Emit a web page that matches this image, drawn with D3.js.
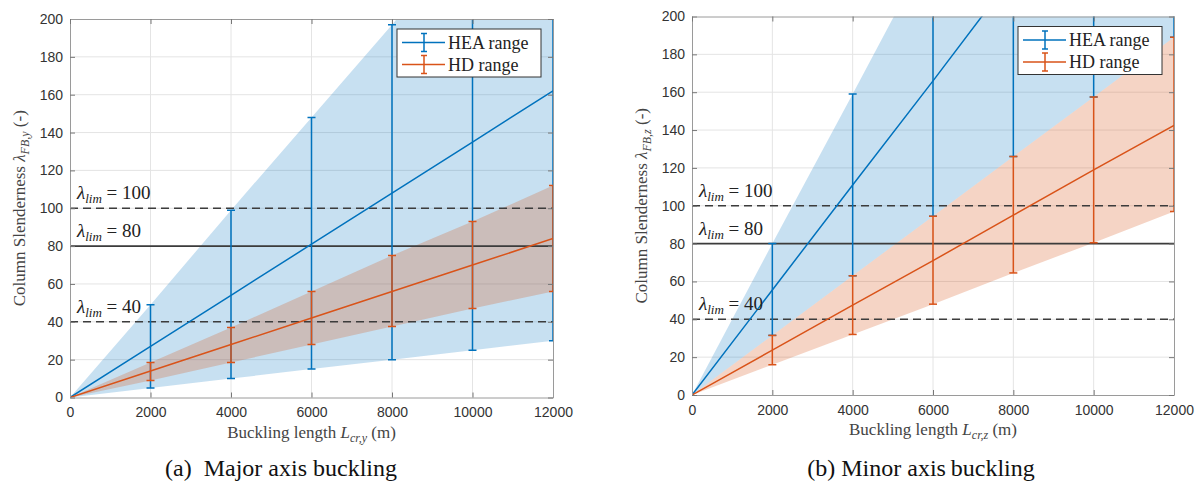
<!DOCTYPE html>
<html>
  <head>
    <title>Column slenderness</title>
  <script src="https://d3js.org/d3.v7.min.js"></script>
  <style>
    body { margin: 0; background: #fff; }
    .tick text { font-family: "Liberation Sans", Arial, sans-serif; font-size: 14px; fill: #333; }
  </style>
 </head>
  <body>

<script type="text/javascript">

// buckling lengths (x) and tick values
var lengths = [0, 2000, 4000, 6000, 8000, 10000, 12000];
var xTicks = [0, 2000, 4000, 6000, 8000, 10000, 12000];
var yTicks = [0, 20, 40, 60, 80, 100, 120, 140, 160, 180, 200];

// (a) major axis  -- lambda_FB,y
var heaMeanY = [0, 27, 54, 81, 108, 135, 162];
var heaMinY  = [0, 5, 10, 15, 20, 25, 30];
var heaMaxY  = [0, 49, 99, 148, 197, 247, 296];
var hdMeanY  = [0, 14, 28, 42, 56, 70, 84];
var hdMinY   = [0, 9, 18.5, 28, 37.5, 47, 56];
var hdMaxY   = [0, 18.5, 37, 56, 75, 93, 112];

// (b) minor axis  -- lambda_FB,z
var heaMeanZ = [0, 55.5, 111, 166, 222, 277, 333];
var heaMinZ  = [0, 31.5, 63, 94.5, 126, 157.5, 189];
var heaMaxZ  = [0, 80, 159, 239, 318, 398, 477];
var hdMeanZ  = [0, 23.7, 47.5, 71, 95, 119, 142.5];
var hdMinZ   = [0, 16, 32, 48, 64.5, 80.5, 97];
var hdMaxZ   = [0, 31.5, 63, 94.5, 126, 157.5, 189];

// slenderness limits
var limits = [100, 80, 40];
var limitDashed = [true, false, true];

var blue = "#0072BD";
var orange = "#D95319";
var serif = "'Liberation Serif', 'Times New Roman', serif";

var svg = d3.select("body").append("svg")
    .attr("width", 1201)
    .attr("height", 488);

function rows(mean, lo, hi) {
  return lengths.map(function(L, i) { return {L: L, mean: mean[i], min: lo[i], max: hi[i]}; });
}

function drawPanel(p) {
  var x = d3.scaleLinear().domain([0, 12000]).range([p.left, p.right]);
  var y = d3.scaleLinear().domain([0, 200]).range([p.bottom, p.top]);

  var g = svg.append("g");

  svg.append("clipPath").attr("id", p.id)
    .append("rect")
    .attr("x", p.left).attr("y", p.top)
    .attr("width", p.right - p.left).attr("height", p.bottom - p.top);

  // grid
  g.selectAll(".gx").data(xTicks.slice(1, -1)).enter().append("line")
    .attr("x1", function(d) { return x(d); }).attr("x2", function(d) { return x(d); })
    .attr("y1", p.top).attr("y2", p.bottom)
    .style("stroke", "#e4e4e4").style("stroke-width", 1);
  g.selectAll(".gy").data(yTicks.slice(1, -1)).enter().append("line")
    .attr("y1", function(d) { return y(d); }).attr("y2", function(d) { return y(d); })
    .attr("x1", p.left).attr("x2", p.right)
    .style("stroke", "#e4e4e4").style("stroke-width", 1);

  var plot = g.append("g").attr("clip-path", "url(#" + p.id + ")");

  var area = d3.area()
    .x(function(d) { return x(d.L); })
    .y0(function(d) { return y(d.min); })
    .y1(function(d) { return y(d.max); });
  var line = d3.line()
    .x(function(d) { return x(d.L); })
    .y(function(d) { return y(d.mean); });

  plot.append("path").attr("d", area(p.hea))
    .style("fill", blue).style("fill-opacity", 0.22);
  plot.append("path").attr("d", area(p.hd))
    .style("fill", orange).style("fill-opacity", 0.25);

  // limit lines
  limits.forEach(function(v, i) {
    plot.append("line")
      .attr("x1", p.left).attr("x2", p.right)
      .attr("y1", y(v)).attr("y2", y(v))
      .style("stroke", "#3c3c3c").style("stroke-width", 1.6)
      .style("stroke-dasharray", limitDashed[i] ? "8,5" : null);
  });

  function errbars(data, color) {
    var b = plot.append("g").style("stroke", color).style("stroke-width", 1.5);
    data.slice(1).forEach(function(d) {
      b.append("line").attr("x1", x(d.L)).attr("x2", x(d.L))
        .attr("y1", y(d.min)).attr("y2", y(d.max));
      [d.min, d.max].forEach(function(v) {
        b.append("line").attr("x1", x(d.L) - 4).attr("x2", x(d.L) + 4)
          .attr("y1", y(v)).attr("y2", y(v));
      });
    });
    plot.append("path").attr("d", line(data))
      .style("fill", "none").style("stroke", color).style("stroke-width", 1.5);
  }
  errbars(p.hea, blue);
  errbars(p.hd, orange);

  // limit labels
  limits.forEach(function(v) {
    var t = g.append("text")
      .attr("x", p.left + 7).attr("y", y(v) - 9)
      .style("font-family", serif).style("font-size", "19px").style("fill", "#222");
    t.append("tspan").text("\u03bb").style("font-style", "italic");
    t.append("tspan").text("lim").attr("dy", 4).style("font-size", "13px").style("font-style", "italic");
    t.append("tspan").text(" = " + v).attr("dy", -4);
  });

  // axes
  var axisStyle = function(sel) {
    sel.select(".domain").style("stroke", "#9a9a9a");
    sel.selectAll(".tick line").style("stroke", "#777");
  };
  var fmt = d3.format("d");
  g.append("g").attr("transform", "translate(0," + p.bottom + ")")
    .call(d3.axisBottom(x).tickValues(xTicks).tickFormat(fmt).tickSizeInner(-5).tickSizeOuter(0).tickPadding(10))
    .call(axisStyle);
  g.append("g").attr("transform", "translate(" + p.left + ",0)")
    .call(d3.axisLeft(y).tickValues(yTicks).tickFormat(fmt).tickSizeInner(-5).tickSizeOuter(0).tickPadding(7))
    .call(axisStyle);
  g.append("g").attr("transform", "translate(0," + p.top + ")")
    .call(d3.axisTop(x).tickValues(xTicks).tickSizeInner(-5).tickSizeOuter(0).tickFormat(""))
    .call(axisStyle);
  g.append("g").attr("transform", "translate(" + p.right + ",0)")
    .call(d3.axisRight(y).tickValues(yTicks).tickSizeInner(-5).tickSizeOuter(0).tickFormat(""))
    .call(axisStyle);

  // axis labels
  var xl = g.append("text")
    .attr("x", (p.left + p.right) / 2).attr("y", p.bottom + 40)
    .attr("text-anchor", "middle")
    .style("font-family", serif).style("font-size", "17px").style("fill", "#444");
  xl.append("tspan").text("Buckling length ");
  xl.append("tspan").text("L").style("font-style", "italic");
  xl.append("tspan").text("cr," + p.sub).attr("dy", 4).style("font-size", "12px").style("font-style", "italic");
  xl.append("tspan").text(" (m)").attr("dy", -4);

  var yl = g.append("text")
    .attr("transform", "translate(" + (p.left - 45) + "," + ((p.top + p.bottom) / 2) + ") rotate(-90)")
    .attr("text-anchor", "middle")
    .style("font-family", serif).style("font-size", "17px").style("fill", "#444");
  yl.append("tspan").text("Column Slenderness ");
  yl.append("tspan").text("\u03bb").style("font-style", "italic");
  yl.append("tspan").text("FB," + p.sub).attr("dy", 4).style("font-size", "12px").style("font-style", "italic");
  yl.append("tspan").text(" (-)").attr("dy", -4);

  // legend
  var lx = p.right - 156, ly = p.top + 10;
  var lg = g.append("g");
  lg.append("rect").attr("x", lx).attr("y", ly).attr("width", 144).attr("height", 48)
    .style("fill", "#fff").style("stroke", "#333").style("stroke-width", 1);
  [["HEA range", blue], ["HD range", orange]].forEach(function(e, i) {
    var ry = ly + 13.5 + i * 22;
    var s = lg.append("g").style("stroke", e[1]).style("stroke-width", 1.5);
    s.append("line").attr("x1", lx + 5).attr("x2", lx + 48).attr("y1", ry).attr("y2", ry);
    s.append("line").attr("x1", lx + 27).attr("x2", lx + 27).attr("y1", ry - 9).attr("y2", ry + 9);
    s.append("line").attr("x1", lx + 24).attr("x2", lx + 30).attr("y1", ry - 9).attr("y2", ry - 9);
    s.append("line").attr("x1", lx + 24).attr("x2", lx + 30).attr("y1", ry + 9).attr("y2", ry + 9);
    lg.append("text").attr("x", lx + 51).attr("y", ry + 6)
      .style("font-family", serif).style("font-size", "18px").style("fill", "#222")
      .text(e[0]);
  });

  // caption
  svg.append("text")
    .attr("x", p.capX).attr("y", 476)
    .attr("text-anchor", "middle")
    .style("font-family", serif).style("font-size", "24px").style("fill", "#111")
    .style("white-space", "pre")
    .text(p.caption);
}

drawPanel({
  id: "clipA", left: 70, right: 553, top: 19, bottom: 397.5, sub: "y",
  hea: rows(heaMeanY, heaMinY, heaMaxY), hd: rows(hdMeanY, hdMinY, hdMaxY),
  caption: "(a)  Major axis buckling", capX: 281
});
drawPanel({
  id: "clipB", left: 692, right: 1174, top: 16.5, bottom: 395, sub: "z",
  hea: rows(heaMeanZ, heaMinZ, heaMaxZ), hd: rows(hdMeanZ, hdMinZ, hdMaxZ),
  caption: "(b) Minor axis\u2009buckling", capX: 921
});

</script>


</body>
</html>
